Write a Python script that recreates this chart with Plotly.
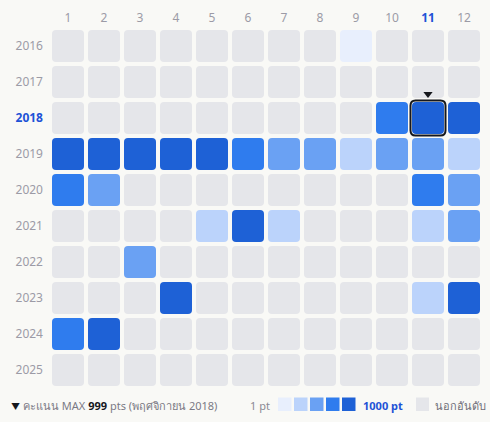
import plotly.graph_objects as go

# ---- data ----
years = [2016, 2017, 2018, 2019, 2020, 2021, 2022, 2023, 2024, 2025]
months = [1, 2, 3, 4, 5, 6, 7, 8, 9, 10, 11, 12]
# intensity level per cell: 0 = not ranked, 1..5 = light -> dark
levels = [
    [0, 0, 0, 0, 0, 0, 0, 0, 1, 0, 0, 0],  # 2016
    [0, 0, 0, 0, 0, 0, 0, 0, 0, 0, 0, 0],  # 2017
    [0, 0, 0, 0, 0, 0, 0, 0, 0, 4, 5, 5],  # 2018
    [5, 5, 5, 5, 5, 4, 3, 3, 2, 3, 3, 2],  # 2019
    [4, 3, 0, 0, 0, 0, 0, 0, 0, 0, 4, 3],  # 2020
    [0, 0, 0, 0, 2, 5, 2, 0, 0, 0, 2, 3],  # 2021
    [0, 0, 3, 0, 0, 0, 0, 0, 0, 0, 0, 0],  # 2022
    [0, 0, 0, 5, 0, 0, 0, 0, 0, 0, 2, 5],  # 2023
    [4, 5, 0, 0, 0, 0, 0, 0, 0, 0, 0, 0],  # 2024
    [0, 0, 0, 0, 0, 0, 0, 0, 0, 0, 0, 0],  # 2025
]
max_year = 2018
max_month = 11
max_pts = 999
legend_left = "คะแนน MAX"
legend_date = "(พฤศจิกายน 2018)"
legend_low = "1 pt"
legend_high = "1000 pt"
legend_out = "นอกอันดับ"

palette = ["#e5e6ea", "#e8effd", "#bbd3fb", "#6aa1f3", "#2f7cee", "#1e61d6"]
BG = "#f9f9f6"
LABEL = "#9c9ba6"
BLUE = "#1e52d6"

FONT = "Noto Sans, Inter, sans-serif"

# ---- geometry (data units; 1 unit = one 36 px cell pitch) ----
half = 16 / 36
rad = 4 / 36


def rounded(xc, yc, h, r):
    x0, x1, y0, y1 = xc - h, xc + h, yc - h, yc + h
    return (f"M {x0+r},{y0} L {x1-r},{y0} Q {x1},{y0} {x1},{y0+r} "
            f"L {x1},{y1-r} Q {x1},{y1} {x1-r},{y1} L {x0+r},{y1} "
            f"Q {x0},{y1} {x0},{y1-r} L {x0},{y0+r} Q {x0},{y0} {x0+r},{y0} Z")


shapes = []
for yi, yr in enumerate(years):
    for mi, m in enumerate(months):
        lv = levels[yi][mi]
        shapes.append(dict(type="path", xref="x", yref="y",
                           path=rounded(m, yr, half, rad),
                           fillcolor=palette[lv], line=dict(width=0), layer="below"))

# highlight border on max cell
shapes.append(dict(type="path", xref="x", yref="y",
                   path=rounded(max_month, max_year, 17.5 / 36, 5 / 36),
                   fillcolor="rgba(0,0,0,0)", line=dict(color="#16181d", width=2)))

fig = go.Figure()
# marker triangle above the max cell
fig.add_trace(go.Scatter(x=[max_month], y=[max_year - 0.67], mode="markers",
                         marker=dict(symbol="triangle-down", size=8, color="#16181d"),
                         hoverinfo="skip", showlegend=False))

# ---- layout geometry in pixels ----
W, H = 490, 422
ml, mr, mt, mb = 50, 8, 28, 34
pw, ph = W - ml - mr, H - mt - mb


def px(x):
    return (x - ml) / pw


def py(y):
    return (H - mb - y) / ph


# footer legend swatches
sw_x = [278, 294, 310, 326, 342]
for i, x0 in enumerate(sw_x):
    shapes.append(dict(type="rect", xref="paper", yref="paper",
                       x0=px(x0), x1=px(x0 + 13.5), y0=py(411), y1=py(397.5),
                       fillcolor=palette[i + 1], line=dict(width=0)))
shapes.append(dict(type="rect", xref="paper", yref="paper",
                   x0=px(416), x1=px(429), y0=py(411), y1=py(397.5),
                   fillcolor=palette[0], line=dict(width=0)))

annotations = [
    dict(xref="paper", yref="paper", x=px(9), y=py(405), xanchor="left", yanchor="middle",
         showarrow=False,
         text=(f"<span style='color:#16181d;font-size:9px'>▼</span>"
               f"<span style='color:#7b7a85'> {legend_left} </span>"
               f"<b style='color:#16181d'>{max_pts}</b>"
               f"<span style='color:#7b7a85'> pts {legend_date}</span>"),
         font=dict(family=FONT, size=11)),
    dict(xref="paper", yref="paper", x=px(272), y=py(405), xanchor="right", yanchor="middle",
         showarrow=False, text=legend_low, font=dict(family=FONT, size=11, color="#8b8a94")),
    dict(xref="paper", yref="paper", x=px(361), y=py(405), xanchor="left", yanchor="middle",
         showarrow=False, text=f"<b>{legend_high}</b>", font=dict(family=FONT, size=11, color=BLUE)),
    dict(xref="paper", yref="paper", x=px(433), y=py(405), xanchor="left", yanchor="middle",
         showarrow=False, text=legend_out, font=dict(family=FONT, size=11, color="#6f6e78")),
]

month_text = [f"<b style='color:{BLUE}'>{m}</b>" if m == max_month else str(m) for m in months]
year_text = [f"<b style='color:{BLUE}'>{y}</b>" if y == max_year else str(y) for y in years]

fig.update_layout(
    width=W, height=H,
    margin=dict(l=ml, r=mr, t=mt, b=mb, pad=0, autoexpand=False),
    paper_bgcolor=BG, plot_bgcolor=BG,
    shapes=shapes, annotations=annotations,
    font=dict(family=FONT, size=12, color=LABEL),
    xaxis=dict(range=[0.5, 12.5], side="top", tickmode="array", tickvals=months,
               ticktext=month_text, showgrid=False, zeroline=False, showline=False,
               ticks="", ticklabelstandoff=3, fixedrange=True, automargin=False),
    yaxis=dict(range=[2025.5, 2015.5], tickmode="array", tickvals=years,
               ticktext=year_text, showgrid=False, zeroline=False, showline=False,
               ticks="", ticklabelstandoff=6, fixedrange=True, automargin=False),
    showlegend=False,
)

fig.write_html(
    "out.html",
    config={"displayModeBar": False},
    post_script="document.body.style.margin='0';document.body.style.background='" + BG + "';",
)
